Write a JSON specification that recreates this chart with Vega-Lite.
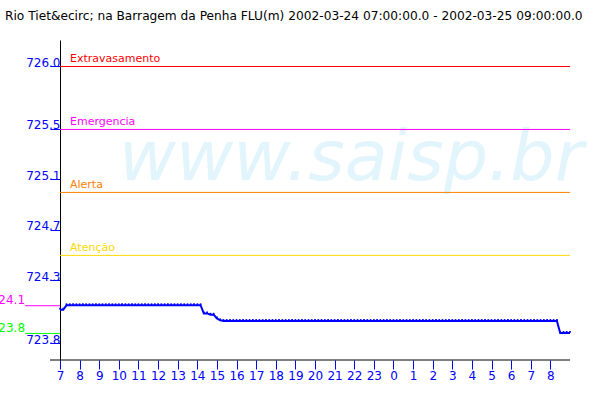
{
  "$schema": "https://vega.github.io/schema/vega-lite/v6.json",
  "autosize": "none",
  "width": 510,
  "height": 320,
  "padding": {"left": 60, "top": 40, "right": 30, "bottom": 40},
  "background": "white",
  "config": {"view": {"stroke": null}, "font": "DejaVu Sans"},
  "title": {
    "text": "Rio Tiet&ecirc; na Barragem da Penha FLU(m) 2002-03-24 07:00:00.0 - 2002-03-25 09:00:00.0",
    "anchor": "start", "frame": "group", "fontSize": 12.2, "fontWeight": "normal", "font": "DejaVu Sans",
    "color": "black", "dx": -55, "baseline": "alphabetic", "offset": 8
  },
  "datasets": {
    "series": [
      {"t":"2002-03-24T07:00","v":724.065},{"t":"2002-03-24T07:10","v":724.065},{"t":"2002-03-24T07:20","v":724.1},{"t":"2002-03-24T07:30","v":724.1},{"t":"2002-03-24T07:40","v":724.1},{"t":"2002-03-24T07:50","v":724.1},
      {"t":"2002-03-24T08:00","v":724.1},{"t":"2002-03-24T08:10","v":724.1},{"t":"2002-03-24T08:20","v":724.1},{"t":"2002-03-24T08:30","v":724.1},{"t":"2002-03-24T08:40","v":724.1},{"t":"2002-03-24T08:50","v":724.1},
      {"t":"2002-03-24T09:00","v":724.1},{"t":"2002-03-24T09:10","v":724.1},{"t":"2002-03-24T09:20","v":724.1},{"t":"2002-03-24T09:30","v":724.1},{"t":"2002-03-24T09:40","v":724.1},{"t":"2002-03-24T09:50","v":724.1},
      {"t":"2002-03-24T10:00","v":724.1},{"t":"2002-03-24T10:10","v":724.1},{"t":"2002-03-24T10:20","v":724.1},{"t":"2002-03-24T10:30","v":724.1},{"t":"2002-03-24T10:40","v":724.1},{"t":"2002-03-24T10:50","v":724.1},
      {"t":"2002-03-24T11:00","v":724.1},{"t":"2002-03-24T11:10","v":724.1},{"t":"2002-03-24T11:20","v":724.1},{"t":"2002-03-24T11:30","v":724.1},{"t":"2002-03-24T11:40","v":724.1},{"t":"2002-03-24T11:50","v":724.1},
      {"t":"2002-03-24T12:00","v":724.1},{"t":"2002-03-24T12:10","v":724.1},{"t":"2002-03-24T12:20","v":724.1},{"t":"2002-03-24T12:30","v":724.1},{"t":"2002-03-24T12:40","v":724.1},{"t":"2002-03-24T12:50","v":724.1},
      {"t":"2002-03-24T13:00","v":724.1},{"t":"2002-03-24T13:10","v":724.1},{"t":"2002-03-24T13:20","v":724.1},{"t":"2002-03-24T13:30","v":724.1},{"t":"2002-03-24T13:40","v":724.1},{"t":"2002-03-24T13:50","v":724.1},
      {"t":"2002-03-24T14:00","v":724.1},{"t":"2002-03-24T14:10","v":724.1},{"t":"2002-03-24T14:20","v":724.035},{"t":"2002-03-24T14:30","v":724.035},{"t":"2002-03-24T14:40","v":724.025},{"t":"2002-03-24T14:50","v":724.025},
      {"t":"2002-03-24T15:00","v":723.995},{"t":"2002-03-24T15:10","v":723.98},{"t":"2002-03-24T15:20","v":723.975},{"t":"2002-03-24T15:30","v":723.975},{"t":"2002-03-24T15:40","v":723.975},{"t":"2002-03-24T15:50","v":723.975},
      {"t":"2002-03-24T16:00","v":723.975},{"t":"2002-03-24T16:10","v":723.975},{"t":"2002-03-24T16:20","v":723.975},{"t":"2002-03-24T16:30","v":723.975},{"t":"2002-03-24T16:40","v":723.975},{"t":"2002-03-24T16:50","v":723.975},
      {"t":"2002-03-24T17:00","v":723.975},{"t":"2002-03-24T17:10","v":723.975},{"t":"2002-03-24T17:20","v":723.975},{"t":"2002-03-24T17:30","v":723.975},{"t":"2002-03-24T17:40","v":723.975},{"t":"2002-03-24T17:50","v":723.975},
      {"t":"2002-03-24T18:00","v":723.975},{"t":"2002-03-24T18:10","v":723.975},{"t":"2002-03-24T18:20","v":723.975},{"t":"2002-03-24T18:30","v":723.975},{"t":"2002-03-24T18:40","v":723.975},{"t":"2002-03-24T18:50","v":723.975},
      {"t":"2002-03-24T19:00","v":723.975},{"t":"2002-03-24T19:10","v":723.975},{"t":"2002-03-24T19:20","v":723.975},{"t":"2002-03-24T19:30","v":723.975},{"t":"2002-03-24T19:40","v":723.975},{"t":"2002-03-24T19:50","v":723.975},
      {"t":"2002-03-24T20:00","v":723.975},{"t":"2002-03-24T20:10","v":723.975},{"t":"2002-03-24T20:20","v":723.975},{"t":"2002-03-24T20:30","v":723.975},{"t":"2002-03-24T20:40","v":723.975},{"t":"2002-03-24T20:50","v":723.975},
      {"t":"2002-03-24T21:00","v":723.975},{"t":"2002-03-24T21:10","v":723.975},{"t":"2002-03-24T21:20","v":723.975},{"t":"2002-03-24T21:30","v":723.975},{"t":"2002-03-24T21:40","v":723.975},{"t":"2002-03-24T21:50","v":723.975},
      {"t":"2002-03-24T22:00","v":723.975},{"t":"2002-03-24T22:10","v":723.975},{"t":"2002-03-24T22:20","v":723.975},{"t":"2002-03-24T22:30","v":723.975},{"t":"2002-03-24T22:40","v":723.975},{"t":"2002-03-24T22:50","v":723.975},
      {"t":"2002-03-24T23:00","v":723.975},{"t":"2002-03-24T23:10","v":723.975},{"t":"2002-03-24T23:20","v":723.975},{"t":"2002-03-24T23:30","v":723.975},{"t":"2002-03-24T23:40","v":723.975},{"t":"2002-03-24T23:50","v":723.975},
      {"t":"2002-03-25T00:00","v":723.975},{"t":"2002-03-25T00:10","v":723.975},{"t":"2002-03-25T00:20","v":723.975},{"t":"2002-03-25T00:30","v":723.975},{"t":"2002-03-25T00:40","v":723.975},{"t":"2002-03-25T00:50","v":723.975},
      {"t":"2002-03-25T01:00","v":723.975},{"t":"2002-03-25T01:10","v":723.975},{"t":"2002-03-25T01:20","v":723.975},{"t":"2002-03-25T01:30","v":723.975},{"t":"2002-03-25T01:40","v":723.975},{"t":"2002-03-25T01:50","v":723.975},
      {"t":"2002-03-25T02:00","v":723.975},{"t":"2002-03-25T02:10","v":723.975},{"t":"2002-03-25T02:20","v":723.975},{"t":"2002-03-25T02:30","v":723.975},{"t":"2002-03-25T02:40","v":723.975},{"t":"2002-03-25T02:50","v":723.975},
      {"t":"2002-03-25T03:00","v":723.975},{"t":"2002-03-25T03:10","v":723.975},{"t":"2002-03-25T03:20","v":723.975},{"t":"2002-03-25T03:30","v":723.975},{"t":"2002-03-25T03:40","v":723.975},{"t":"2002-03-25T03:50","v":723.975},
      {"t":"2002-03-25T04:00","v":723.975},{"t":"2002-03-25T04:10","v":723.975},{"t":"2002-03-25T04:20","v":723.975},{"t":"2002-03-25T04:30","v":723.975},{"t":"2002-03-25T04:40","v":723.975},{"t":"2002-03-25T04:50","v":723.975},
      {"t":"2002-03-25T05:00","v":723.975},{"t":"2002-03-25T05:10","v":723.975},{"t":"2002-03-25T05:20","v":723.975},{"t":"2002-03-25T05:30","v":723.975},{"t":"2002-03-25T05:40","v":723.975},{"t":"2002-03-25T05:50","v":723.975},
      {"t":"2002-03-25T06:00","v":723.975},{"t":"2002-03-25T06:10","v":723.975},{"t":"2002-03-25T06:20","v":723.975},{"t":"2002-03-25T06:30","v":723.975},{"t":"2002-03-25T06:40","v":723.975},{"t":"2002-03-25T06:50","v":723.975},
      {"t":"2002-03-25T07:00","v":723.975},{"t":"2002-03-25T07:10","v":723.975},{"t":"2002-03-25T07:20","v":723.975},{"t":"2002-03-25T07:30","v":723.975},{"t":"2002-03-25T07:40","v":723.975},{"t":"2002-03-25T07:50","v":723.975},
      {"t":"2002-03-25T08:00","v":723.975},{"t":"2002-03-25T08:10","v":723.975},{"t":"2002-03-25T08:20","v":723.975},{"t":"2002-03-25T08:30","v":723.88},{"t":"2002-03-25T08:40","v":723.88},{"t":"2002-03-25T08:50","v":723.88},
      {"t":"2002-03-25T09:00","v":723.88}
    ],
    "thresholds": [
      {"name":"Extravasamento","v":726.0},
      {"name":"Emergencia","v":725.5},
      {"name":"Alerta","v":725.0},
      {"name":"Atenção","v":724.5}
    ],
    "extremes": [
      {"name":"max","v":724.1,"label":"724.1"},
      {"name":"min","v":723.88,"label":"723.8"}
    ],
    "watermark": [{"label":"www.saisp.br"}],
    "axisline": [{"label":"x axis"}]
  },
  "encoding": {
    "x": {"type": "temporal",
      "scale": {"domain": [{"year":2002,"month":3,"date":24,"hours":7},{"year":2002,"month":3,"date":25,"hours":9}]},
      "axis": {
        "title": null, "domain": false, "grid": false, "format": "%-H",
        "values": [
          {"year":2002,"month":3,"date":24,"hours":7},{"year":2002,"month":3,"date":24,"hours":8},{"year":2002,"month":3,"date":24,"hours":9},{"year":2002,"month":3,"date":24,"hours":10},
          {"year":2002,"month":3,"date":24,"hours":11},{"year":2002,"month":3,"date":24,"hours":12},{"year":2002,"month":3,"date":24,"hours":13},{"year":2002,"month":3,"date":24,"hours":14},
          {"year":2002,"month":3,"date":24,"hours":15},{"year":2002,"month":3,"date":24,"hours":16},{"year":2002,"month":3,"date":24,"hours":17},{"year":2002,"month":3,"date":24,"hours":18},
          {"year":2002,"month":3,"date":24,"hours":19},{"year":2002,"month":3,"date":24,"hours":20},{"year":2002,"month":3,"date":24,"hours":21},{"year":2002,"month":3,"date":24,"hours":22},
          {"year":2002,"month":3,"date":24,"hours":23},{"year":2002,"month":3,"date":25,"hours":0},{"year":2002,"month":3,"date":25,"hours":1},{"year":2002,"month":3,"date":25,"hours":2},
          {"year":2002,"month":3,"date":25,"hours":3},{"year":2002,"month":3,"date":25,"hours":4},{"year":2002,"month":3,"date":25,"hours":5},{"year":2002,"month":3,"date":25,"hours":6},
          {"year":2002,"month":3,"date":25,"hours":7},{"year":2002,"month":3,"date":25,"hours":8}
        ],
        "tickColor": "#0000ff", "tickSize": 9, "labelColor": "#0000ff", "labelFontSize": 12,
        "labelFont": "DejaVu Sans", "labelPadding": 1, "labelFlush": false, "labelOverlap": false, "labelBaseline": "top"
      }
    },
    "y": {"type": "quantitative",
      "scale": {"domain": [723.665, 726.2065], "nice": false, "zero": false},
      "axis": {
        "title": null, "grid": false, "values": [723.8, 724.3, 724.7, 725.1, 725.5, 726.0], "format": ".1f",
        "domainColor": "black", "tickColor": "#0000ff", "tickSize": 10, "labelColor": "#0000ff",
        "labelFontSize": 12, "labelFont": "DejaVu Sans", "labelPadding": -10, "labelBaseline": "alphabetic",
        "labelAlign": "right", "labelOverlap": false, "labelFlush": false
      }
    }
  },
  "layer": [
    {
      "data": {"name": "watermark"},
      "mark": {"type": "text", "font": "DejaVu Sans", "fontStyle": "italic", "fontSize": 70, "color": "#e2f4fc", "align": "left", "baseline": "alphabetic"},
      "encoding": {
        "x": {"datum": {"year":2002,"month":3,"date":24,"hours":10}, "type": "temporal"},
        "y": {"datum": 725.095, "type": "quantitative"},
        "text": {"field": "label"}
      }
    },
    {
      "data": {"name": "thresholds"},
      "mark": {"type": "rule", "strokeWidth": 1, "yOffset": 0.5},
      "encoding": {
        "y": {"field": "v", "type": "quantitative"},
        "color": {"field": "name", "type": "nominal", "legend": null,
          "scale": {"domain": ["Extravasamento","Emergencia","Alerta","Atenção","max","min"],
                    "range": ["#ff0000","#ff00ff","#ff8000","#ffd800","#ff00ff","#00ff00"]}}
      }
    },
    {
      "data": {"name": "thresholds"},
      "mark": {"type": "text", "align": "left", "baseline": "alphabetic", "dx": 10, "dy": -4, "fontSize": 11, "font": "DejaVu Sans"},
      "encoding": {
        "x": {"datum": {"year":2002,"month":3,"date":24,"hours":7}, "type": "temporal"},
        "y": {"field": "v", "type": "quantitative"},
        "text": {"field": "name"},
        "color": {"field": "name", "type": "nominal", "legend": null}
      }
    },
    {
      "data": {"name": "extremes"},
      "mark": {"type": "rule", "strokeWidth": 1, "yOffset": 0.5},
      "encoding": {
        "x": {"datum": {"year":2002,"month":3,"date":24,"hours":5,"minutes":13}, "type": "temporal"},
        "x2": {"datum": {"year":2002,"month":3,"date":24,"hours":7}},
        "y": {"field": "v", "type": "quantitative"},
        "color": {"field": "name", "type": "nominal", "legend": null}
      }
    },
    {
      "data": {"name": "extremes"},
      "mark": {"type": "text", "align": "right", "baseline": "alphabetic", "dy": -1, "fontSize": 12, "font": "DejaVu Sans"},
      "encoding": {
        "x": {"datum": {"year":2002,"month":3,"date":24,"hours":5,"minutes":13}, "type": "temporal"},
        "y": {"field": "v", "type": "quantitative"},
        "text": {"field": "label"},
        "color": {"field": "name", "type": "nominal", "legend": null}
      }
    },
    {
      "data": {"name": "axisline"},
      "mark": {"type": "rule", "color": "black", "strokeWidth": 1},
      "encoding": {
        "x": {"datum": {"year":2002,"month":3,"date":24,"hours":6,"minutes":29,"seconds":24}, "type": "temporal"},
        "x2": {"datum": {"year":2002,"month":3,"date":25,"hours":9}},
        "y": {"datum": 723.665, "type": "quantitative"}
      }
    },
    {
      "data": {"name": "series"},
      "mark": {"type": "line", "color": "#0000ff", "strokeWidth": 2},
      "encoding": {
        "x": {"field": "t", "type": "temporal"},
        "y": {"field": "v", "type": "quantitative"}
      }
    },
    {
      "data": {"name": "series"},
      "mark": {"type": "point", "shape": "square", "filled": true, "size": 3, "color": "#0000ff", "opacity": 1, "yOffset": -1},
      "encoding": {
        "x": {"field": "t", "type": "temporal"},
        "y": {"field": "v", "type": "quantitative"}
      }
    }
  ]
}
